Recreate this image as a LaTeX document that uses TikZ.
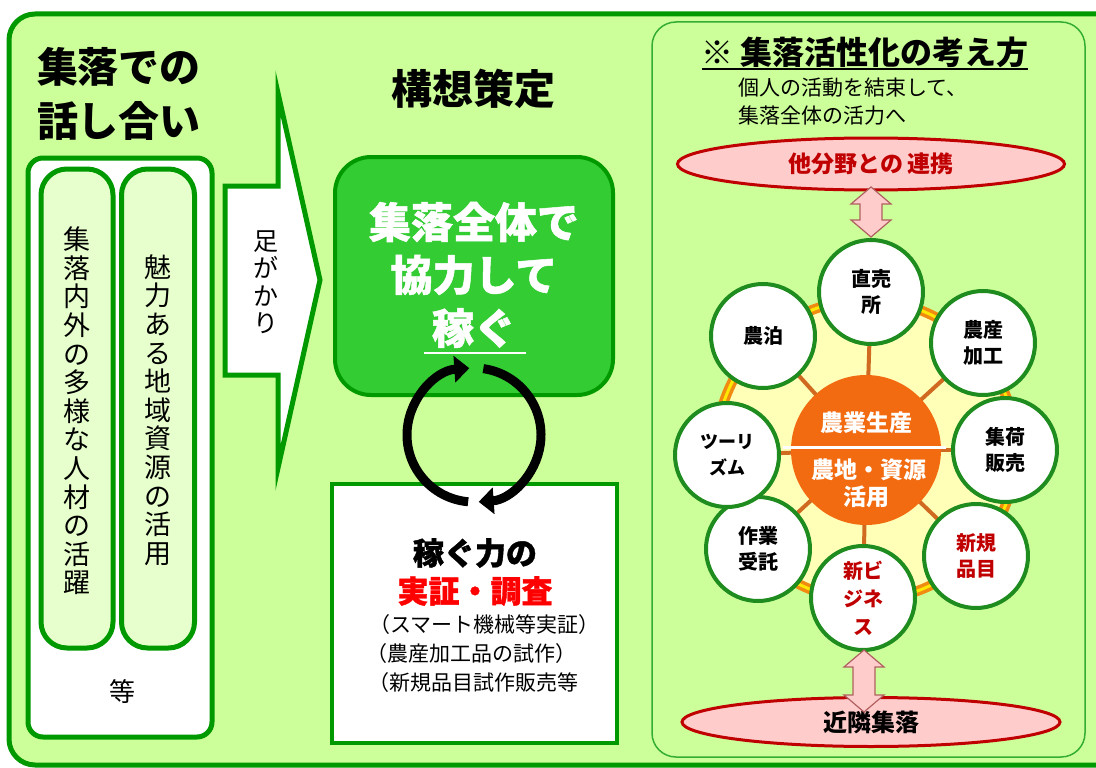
\documentclass[tikz,border=0pt]{standalone}
\usepackage{fontspec}
\setmainfont{Noto Sans CJK JP}
\usetikzlibrary{arrows.meta,calc,shapes.geometric}
\definecolor{bgG}{HTML}{CCFF99}
\definecolor{bdG}{HTML}{009900}
\definecolor{pillG}{HTML}{E6FFCC}
\definecolor{boxG}{HTML}{33CC33}
\definecolor{orgC}{HTML}{F26B10}
\definecolor{pinkF}{HTML}{FFCCCC}
\definecolor{redB}{HTML}{C00000}
\definecolor{ylwF}{HTML}{FFFFB8}
\definecolor{ringO}{HTML}{F08A10}
\definecolor{spokeO}{HTML}{D06A20}
\definecolor{satG}{HTML}{1E8C1E}
\definecolor{arrB}{HTML}{B06060}
\newcommand{\fsz}[2]{\fontsize{#1}{#2}\selectfont}
\newcommand{\heavy}{\bfseries\addfontfeature{FakeBold=1.2}}
\newcommand{\dblarrow}[3]{%
  \draw[fill=pinkF, draw=arrB, line width=1.2, line join=miter]
    (#1,#2) -- ({#1+20},{#2+17}) -- ({#1+11},{#2+17}) -- ({#1+11},{#3-17})
    -- ({#1+20},{#3-17}) -- (#1,#3) -- ({#1-20},{#3-17}) -- ({#1-11},{#3-17})
    -- ({#1-11},{#2+17}) -- ({#1-20},{#2+17}) -- cycle;}
\begin{document}
\begin{tikzpicture}[x=1pt,y=-1pt,
  every node/.style={inner sep=0pt, outer sep=0pt},
  pillbox/.style={draw=bdG, fill=pillG, line width=5, rounded corners=26},
  vtext/.style={align=center, font=\fsz{27}{28.6}},
  sat/.style={circle, draw=satG, fill=white, line width=4, minimum size=104,
     align=center, font=\fsz{20}{26}\bfseries},
  redsat/.style={sat, text=redB},
  spoke/.style={draw=spokeO, line width=4},
  oval/.style={ellipse, draw=redB, fill=pinkF, line width=3},
  cyc/.style={line width=9, -{Triangle[width=26pt,length=15pt]}},
  paren/.style={anchor=west, font=\fsz{21}{21}}
]
\useasboundingbox (0,0) rectangle (1096,768);
\clip (0,0) rectangle (1096,768);
\fill[white] (0,0) rectangle (1096,768);
% outer frame
\draw[draw=bdG, fill=bgG, line width=5, rounded corners=26] (9,14) rectangle (1130,765);

% left titles
\node[anchor=west, font=\fsz{41}{41}\bfseries] (ttl1) at (37,67) {集落での};
\node[anchor=west, font=\fsz{41}{41}\bfseries] (ttl2) at (37,121) {話し合い};

% left box
\node[draw=bdG, fill=white, line width=5, rounded corners=15,
      minimum width=184, minimum height=579] (lbox) at (120,447.5) {};
\node[pillbox, minimum width=72, minimum height=479] (pill1) at (77,408.5) {};
\node[pillbox, minimum width=73, minimum height=479] (pill2) at (158,408.5) {};
\node[vtext] (pt1) at (77,411) {集\\落\\内\\外\\の\\多\\様\\な\\人\\材\\の\\活\\躍};
\node[vtext] (pt2) at (158,410) {魅\\力\\あ\\る\\地\\域\\資\\源\\の\\活\\用};
\node[font=\fsz{26}{26}] (etc) at (122,692) {等};

% big arrow
\draw[draw=bdG, fill=white, line width=5, line join=miter]
  (225,186) -- (278,186) -- (278,93) -- (320,280) -- (278,468) -- (278,375) -- (225,375) -- cycle;
\node[align=center, font=\fsz{25}{27.5}] (ashi) at (266,282) {足\\が\\か\\り};

% middle
\node[font=\fsz{41}{41}\bfseries] (koso) at (473,89) {構想策定};
\node[draw=bdG, fill=boxG, line width=4, rounded corners=36,
      minimum width=278, minimum height=238] (gbox) at (474,276) {};
\node[text=white, font=\fsz{42}{42}\heavy] (g1) at (474,222) {集落全体で};
\node[text=white, font=\fsz{42}{42}\heavy] (g2) at (474,275) {協力して};
\node[text=white, font=\fsz{42}{42}\heavy] (g3) at (474,328) {稼ぐ};
\draw[white, line width=2] ($(g3.center)+(-50,25)$) -- ($(g3.center)+(52,25)$);

\node[draw=bdG, fill=white, line width=4.5, minimum width=285, minimum height=259] (wbox) at (474.5,613.5) {};
\node[font=\fsz{31}{31}\heavy] (w1) at (475,553) {稼ぐ力の};
\node[text=red, font=\fsz{31}{31}\heavy] (w2) at (475,591) {実証・調査};
\node[paren] (w3) at (369,625) {（スマート機械等実証）};
\node[paren] (w4) at (366,654) {（農産加工品の試作）};
\node[paren] (w5) at (368,683) {（新規品目試作販売等};

% cycle arrows
\coordinate (C) at (474,435);
\draw[cyc] ($(C)+(95:67)$) arc[start angle=95, end angle=266, radius=67];
\draw[cyc] ($(C)+(-82:67)$) arc[start angle=-82, end angle=86, radius=67];

% right panel
\node[draw=bdG!80, fill=bgG, line width=1.5, rounded corners=24,
      minimum width=433, minimum height=735] (panel) at (868.5,389.5) {};
\node[font=\fsz{32}{32}\bfseries] (hdr) at (865,52) {※ 集落活性化の考え方};
\draw[line width=2] ($(hdr.center)+(-163,17)$) -- ($(hdr.center)+(163,17)$);
\node[anchor=west, font=\fsz{21}{21}] (sub1) at (738,88) {個人の活動を結束して、};
\node[anchor=west, font=\fsz{21}{21}] (sub2) at (738,116) {集落全体の活力へ};

\node[oval, minimum width=387, minimum height=52, text=redB, font=\fsz{23}{23}\bfseries] (ov1) at (871,164) {他分野との\,連携};
\node[oval, minimum width=378, minimum height=49, font=\fsz{24}{24}\bfseries] (ov2) at (871,722) {近隣集落};

% wheel
\coordinate (O) at (866,450);
\fill[ylwF] (O) circle[radius=152];
\draw[ringO, line width=10] (O) circle[radius=150];
\draw[yellow!90!orange, line width=3] (O) circle[radius=150];
\coordinate (c1) at (871,292);
\coordinate (c2) at (983,343);
\coordinate (c3) at (1005,450);
\coordinate (c4) at (976,556);
\coordinate (c5) at (863,598);
\coordinate (c6) at (758,549);
\coordinate (c7) at (727,455);
\coordinate (c8) at (763,336);
\foreach \c in {c1,c2,c3,c4,c5,c6,c7,c8} \draw[spoke] (O) -- (\c);
\node[sat] (s1) at (c1) {直売\\所};
\node[sat] (s2) at (c2) {農産\\加工};
\node[sat] (s3) at (c3) {集荷\\販売};
\node[redsat] (s4) at (c4) {新規\\品目};
\node[redsat, font=\fsz{20}{28}\bfseries] (s5) at (c5) {新ビ\\ジネ\\ス};
\node[sat] (s6) at (c6) {作業\\受託};
\node[sat, font=\fsz{18}{26}\bfseries] (s7) at (c7) {ツーリ\\ズム};
\node[sat] (s8) at (c8) {農泊};
\node[circle, fill=orgC, minimum size=150] (core) at (O) {};
\draw[white, line width=3] ($(core.west)+(-8,-3)$) -- ($(core.east)+(5,-3)$);
\node[text=white, font=\fsz{23}{23}\bfseries] (k1) at (866,423) {農業生産};
\node[text=white, font=\fsz{23}{23}\bfseries] (k2) at (869,470) {農地・資源};
\node[text=white, font=\fsz{23}{23}\bfseries] (k3) at (866,497) {活用};

% double arrows
\dblarrow{871}{187}{237}
\dblarrow{864}{650}{712}
\end{tikzpicture}
\end{document}
